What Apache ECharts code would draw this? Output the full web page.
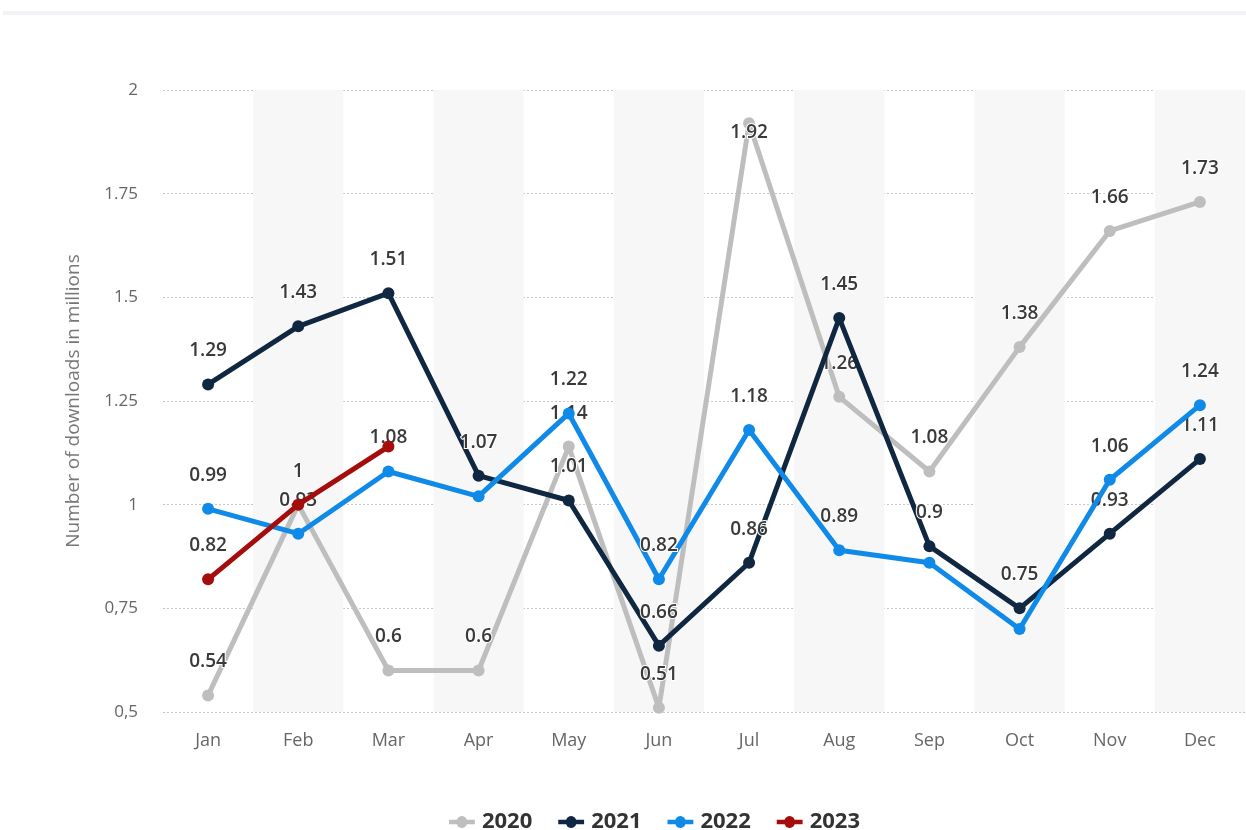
<!DOCTYPE html>
<html>
<head>
<meta charset="utf-8">
<script src="https://cdn.jsdelivr.net/npm/echarts@6/dist/echarts.min.js"></script>
<style>
  html, body { margin: 0; padding: 0; background: #fff; }
  #chart { width: 1246px; height: 830px; }
</style>
</head>
<body>
<div id="chart"></div>
<script>
// Monthly app downloads (millions), one line per year
const months = ['Jan', 'Feb', 'Mar', 'Apr', 'May', 'Jun', 'Jul', 'Aug', 'Sep', 'Oct', 'Nov', 'Dec'];
const years = ['2020', '2021', '2022', '2023'];
const values2020 = [0.54, 1, 0.6, 0.6, 1.14, 0.51, 1.92, 1.26, 1.08, 1.38, 1.66, 1.73];
const values2021 = [1.29, 1.43, 1.51, 1.07, 1.01, 0.66, 0.86, 1.45, 0.9, 0.75, 0.93, 1.11];
const values2022 = [0.99, 0.93, 1.08, 1.02, 1.22, 0.82, 1.18, 0.89, 0.86, 0.7, 1.06, 1.24];
const values2023 = [0.82, 1, 1.14];
// Month indices whose value labels stay hidden where labels collide
const hiddenLabels2020 = [];
const hiddenLabels2021 = [];
const hiddenLabels2022 = [3, 8, 9];
const hiddenLabels2023 = [1, 2];
// Y tick labels as printed on the axis
const yTickValues = [0.5, 0.75, 1, 1.25, 1.5, 1.75, 2];
const yTickLabels = ['0,5', '0,75', '1', '1.25', '1.5', '1.75', '2'];
const colors = ['#bebebe', '#0f2741', '#0f8ae8', '#a50d0d'];

const FONT = '"Open Sans", "Noto Sans", sans-serif';
// legend marker: thick line with a dot in the middle
const LEGEND_ICON = 'path://M0,3.5 L9.2,3.5 A6,6 0 0 1 20.8,3.5 L30,3.5 L30,8.5 L20.8,8.5 A6,6 0 0 1 9.2,8.5 L0,8.5 Z';

function buildData(values, hidden) {
  return values.map((v, i) => {
    if (hidden.includes(i)) return { value: v, label: { show: false } };
    // the peak close to the top edge keeps its label tucked onto the point
    if (v >= 1.9) return { value: v, label: { position: 'inside', offset: [0, 9] } };
    return v;
  });
}

function makeSeries(name, values, hidden, color, z) {
  return {
    name: name,
    type: 'line',
    data: buildData(values, hidden),
    z: z,
    symbol: 'circle',
    symbolSize: 12,
    lineStyle: { width: 5, color: color },
    itemStyle: { color: color },
    label: {
      show: true,
      position: 'top',
      distance: 18,
      fontFamily: FONT,
      fontSize: 19,
      fontWeight: 600,
      color: '#3a3a3a',
      textBorderColor: '#ffffff',
      textBorderWidth: 2
    },
    emphasis: { disabled: true },
    animation: false
  };
}

const chart = echarts.init(document.getElementById('chart'), null, { renderer: 'canvas' });

chart.setOption({
  backgroundColor: '#ffffff',
  animation: false,
  color: colors,
  graphic: [{
    type: 'rect',
    shape: { x: 3, y: 11, width: 1243, height: 4 },
    style: { fill: '#f1f3f6' },
    silent: true
  }],
  grid: { left: 163, right: 1, top: 90, bottom: 118 },
  legend: {
    top: 806,
    left: 444,
    itemWidth: 30,
    itemHeight: 12,
    itemGap: 26,
    textStyle: { fontFamily: FONT, fontSize: 22, fontWeight: 700, color: '#333' },
    data: years.map(y => ({ name: y, icon: LEGEND_ICON }))
  },
  xAxis: {
    type: 'category',
    data: months,
    boundaryGap: true,
    axisLine: { show: false },
    axisTick: { show: false },
    axisLabel: { fontFamily: FONT, fontSize: 18, color: '#666', margin: 20 },
    splitArea: { show: true, areaStyle: { color: ['rgba(255,255,255,0)', '#f7f7f7'] } },
    splitLine: { show: false }
  },
  yAxis: {
    type: 'value',
    min: yTickValues[0],
    max: yTickValues[yTickValues.length - 1],
    interval: 0.25,
    name: 'Number of downloads in millions',
    nameLocation: 'middle',
    nameGap: 80,
    nameTextStyle: { fontFamily: FONT, fontSize: 19, color: '#777' },
    axisLine: { show: false },
    axisTick: { show: false },
    axisLabel: {
      fontFamily: FONT,
      fontSize: 17,
      color: '#666',
      margin: 25,
      formatter: function (v) {
        const idx = yTickValues.findIndex(t => Math.abs(t - v) < 1e-9);
        return idx >= 0 ? yTickLabels[idx] : '';
      }
    },
    splitLine: { lineStyle: { type: [2, 2], color: '#c8c8c8', width: 1 } }
  },
  series: [
    makeSeries(years[0], values2020, hiddenLabels2020, colors[0], 2),
    makeSeries(years[1], values2021, hiddenLabels2021, colors[1], 3),
    makeSeries(years[2], values2022, hiddenLabels2022, colors[2], 4),
    makeSeries(years[3], values2023, hiddenLabels2023, colors[3], 5)
  ]
});
</script>
</body>
</html>
